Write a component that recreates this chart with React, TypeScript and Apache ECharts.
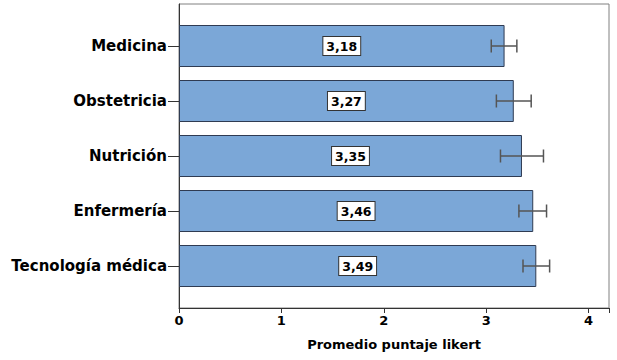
import React, { useEffect, useRef } from "react";
import * as echarts from "echarts";

const categories = ["Medicina", "Obstetricia", "Nutrición", "Enfermería", "Tecnología médica"];
const means = [3.18, 3.27, 3.35, 3.46, 3.49];
const ciLow = [3.05, 3.1, 3.14, 3.32, 3.36];
const ciHigh = [3.3, 3.44, 3.56, 3.59, 3.62];
const xTicks = [0, 1, 2, 3, 4];
const axisTitle = "Promedio puntaje likert";

const FONT = "DejaVu Sans";

export default function App() {
  const ref = useRef<HTMLDivElement>(null);
  useEffect(() => {
    document.body.style.margin = "0";
    const chart = echarts.init(ref.current!, null, { renderer: "svg" });
    const errData = categories.map((_, i) => [i, ciLow[i], ciHigh[i]]);
    chart.setOption({
      animation: false,
      backgroundColor: "#fff",
      grid: [
        { left: 179, right: 8, top: 4, bottom: 52, show: true, borderColor: "#808080", borderWidth: 1, backgroundColor: "transparent" },
        { left: 179, right: 8, top: 18.5, bottom: 66.5 },
      ],
      xAxis: [
        {
          gridIndex: 0,
          type: "value",
          min: 0,
          max: 4.2,
          interval: 1,
          splitLine: { show: false },
          axisLine: { show: true, lineStyle: { color: "#333", width: 1 } },
          axisTick: { show: true, length: 5, lineStyle: { color: "#333" } },
          axisLabel: {
            color: "#000",
            fontFamily: FONT,
            fontWeight: "bold",
            fontSize: 13,
            margin: 6,
            formatter: (v: number) => (xTicks.includes(v) ? String(v) : ""),
          },
          name: axisTitle,
          nameLocation: "middle",
          nameGap: 30,
          nameTextStyle: { color: "#000", fontFamily: FONT, fontWeight: "bold", fontSize: 13 },
        },
        { gridIndex: 1, type: "value", min: 0, max: 4.2, show: false },
      ],
      yAxis: [
        {
          gridIndex: 0,
          type: "value",
          min: 0,
          max: 1,
          splitLine: { show: false },
          axisLine: { show: true, lineStyle: { color: "#333", width: 1 } },
          axisTick: { show: false },
          axisLabel: { show: false },
        },
        {
          gridIndex: 1,
          type: "category",
          inverse: true,
          data: categories,
          axisLine: { show: false },
          axisTick: { show: true, alignWithLabel: true, length: 11, lineStyle: { color: "#333" } },
          axisLabel: { color: "#000", fontFamily: FONT, fontWeight: "bold", fontSize: 15, margin: 12 },
        },
      ],
      series: [
        {
          type: "bar",
          xAxisIndex: 1,
          yAxisIndex: 1,
          data: means,
          barWidth: 42,
          itemStyle: { color: "#7ba7d7", borderColor: "#2f3b52", borderWidth: 1 },
          label: {
            show: true,
            position: "inside",
            formatter: (p: any) => Number(p.value).toFixed(2).replace(".", ","),
            color: "#000",
            fontFamily: FONT,
            fontWeight: "bold",
            fontSize: 12.5,
            backgroundColor: "#fff",
            borderColor: "#333",
            borderWidth: 1,
            padding: [3, 3, 2, 3],
          },
        },
        {
          type: "custom",
          xAxisIndex: 1,
          yAxisIndex: 1,
          data: errData,
          renderItem: (params: any, api: any) => {
            const idx = api.value(0);
            const lo = api.coord([api.value(1), idx]);
            const hi = api.coord([api.value(2), idx]);
            const h = 6.5;
            const style = { stroke: "#555", lineWidth: 1.5 };
            return {
              type: "group",
              children: [
                { type: "line", shape: { x1: lo[0], y1: lo[1], x2: hi[0], y2: hi[1] }, style },
                { type: "line", shape: { x1: lo[0], y1: lo[1] - h, x2: lo[0], y2: lo[1] + h }, style },
                { type: "line", shape: { x1: hi[0], y1: hi[1] - h, x2: hi[0], y2: hi[1] + h }, style },
              ],
            };
          },
          z: 5,
        },
      ],
    });
    return () => chart.dispose();
  }, []);
  return <div ref={ref} style={{ width: 617, height: 360 }} />;
}
